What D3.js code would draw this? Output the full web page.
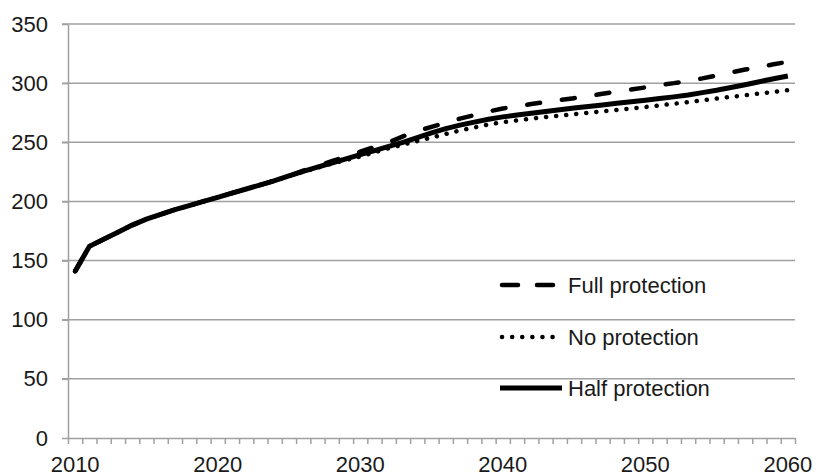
<!DOCTYPE html>
<html lang="en">
<head>
    <meta charset="utf-8" />
    <title>Protection scenarios</title>
    <script src="https://cdnjs.cloudflare.com/ajax/libs/d3/7.8.5/d3.min.js"></script>
    <style>
        body { margin: 0; background: #fff; }
        text { font-family: "Liberation Sans", Arial, sans-serif; fill: #1a1a1a; }
        .axis path, .axis line { stroke: #a0a0a0; stroke-width: 1.5; }
        .grid line { stroke: #a0a0a0; stroke-width: 1.5; }
        .series { fill: none; stroke: #000; }
    </style>
</head>
<body>
<script>
    // Years on the category axis
    const years = d3.range(2010, 2061);
    const xLabels = [2010, 2020, 2030, 2040, 2050, 2060];
    const yTicks = [0, 50, 100, 150, 200, 250, 300, 350];

    // Shared start 2010-2025
    const common = [141, 162, 168, 174, 180, 185, 189, 193, 196.5, 200, 203.5, 207, 210.5, 214, 217.5, 221.5];

    const fullTail = [226, 230, 234, 238, 242, 246, 250, 255, 259.5, 263, 266.5, 270, 273, 276, 278.5,
        280.5, 282.3, 284, 285.7, 287.3, 289, 291, 292.8, 294.6, 296.4, 298.5, 300, 301.8, 304, 306.5,
        309, 311.5, 313.5, 316, 318];
    const noTail = [225, 228.5, 232, 235, 238, 241.5, 245, 248, 251, 254, 257, 260, 262.5, 265, 267,
        268.5, 270, 271.3, 272.5, 273.8, 275, 276.2, 277.4, 278.6, 279.8, 281.2, 282.6, 284, 285.5, 287,
        288.4, 289.8, 291.2, 292.6, 294];
    const halfTail = [225.5, 229, 232.5, 236, 239.5, 243, 246.5, 250, 254, 258, 261.5, 264.5, 267, 269.5, 271.5,
        273, 274.5, 276, 277.5, 279, 280.3, 281.6, 283, 284.3, 285.6, 287, 288.4, 290, 292, 294,
        296.3, 298.7, 301.2, 303.7, 306];

    const seriesNames = ["Full protection", "No protection", "Half protection"];
    const seriesValues = [common.concat(fullTail), common.concat(noTail), common.concat(halfTail)];
    const dashes = ["13,22", "0.1,10", null];
    const widths = [4.5, 4.5, 5];
    const caps = ["round", "round", "butt"];

    const margin = { top: 24, bottom: 38, left: 68, right: 21 };
    const width = 816 - margin.left - margin.right;
    const height = 476 - margin.top - margin.bottom;

    const svg = d3.select("body").append("svg")
        .attr("width", width + margin.left + margin.right)
        .attr("height", height + margin.top + margin.bottom);

    const g = svg.append("g").attr("transform", `translate(${margin.left},${margin.top})`);

    // Scales: edge scale for tick marks, band scale for points and labels
    const xedge = d3.scaleLinear().domain([2010, 2061]).range([0, width]);
    const xband = d3.scaleBand().domain(years).range([0, width]).padding(0);
    const yscale = d3.scaleLinear().domain([0, 350]).range([height, 0]);

    // Gridlines
    g.append("g").attr("class", "grid")
        .selectAll("line")
        .data(yTicks.filter(d => d > 0))
        .join("line")
        .attr("x1", -6).attr("x2", width)
        .attr("y1", d => yscale(d)).attr("y2", d => yscale(d));

    // Y axis
    const g_yaxis = g.append("g").attr("class", "axis")
        .call(d3.axisLeft(yscale).tickValues(yTicks).tickSize(6).tickSizeOuter(0).tickPadding(14));
    g_yaxis.selectAll("text").style("font-size", "22px");

    // X axis: minor ticks on category edges
    g.append("g").attr("class", "axis")
        .attr("transform", `translate(0,${height})`)
        .call(d3.axisBottom(xedge).tickValues(d3.range(2010, 2062)).tickSize(6).tickSizeOuter(0).tickFormat(""));

    // X labels at category centers
    const g_xlab = g.append("g").attr("transform", `translate(0,${height})`)
        .call(d3.axisBottom(xband).tickValues(xLabels).tickSize(0).tickPadding(18).tickFormat(d3.format("d")));
    g_xlab.select(".domain").remove();
    g_xlab.selectAll("text").style("font-size", "22px");

    // Lines
    const line = d3.line()
        .x((d, i) => xband(years[i]) + xband.bandwidth() / 2)
        .y(d => yscale(d));

    seriesValues.forEach((vals, i) => {
        g.append("path")
            .datum(vals)
            .attr("class", "series")
            .attr("d", line)
            .attr("stroke-width", widths[i])
            .attr("stroke-linecap", caps[i])
            .attr("stroke-dasharray", dashes[i]);
    });

    // Legend
    const legend = svg.append("g").attr("class", "legend")
        .attr("transform", "translate(500,285)");

    seriesNames.forEach((name, i) => {
        const yy = [0, 52, 103][i];
        legend.append("line")
            .attr("x1", i === 2 ? 0 : 2).attr("x2", i === 2 ? 62 : 57)
            .attr("y1", yy).attr("y2", yy)
            .attr("stroke", "#000")
            .attr("stroke-width", widths[i])
            .attr("stroke-linecap", caps[i])
            .attr("stroke-dasharray", i === 0 ? "16,19" : dashes[i]);
        legend.append("text")
            .attr("x", 68).attr("y", yy)
            .attr("dy", "0.35em")
            .style("font-size", "22px")
            .text(name);
    });
</script>
</body>
</html>
